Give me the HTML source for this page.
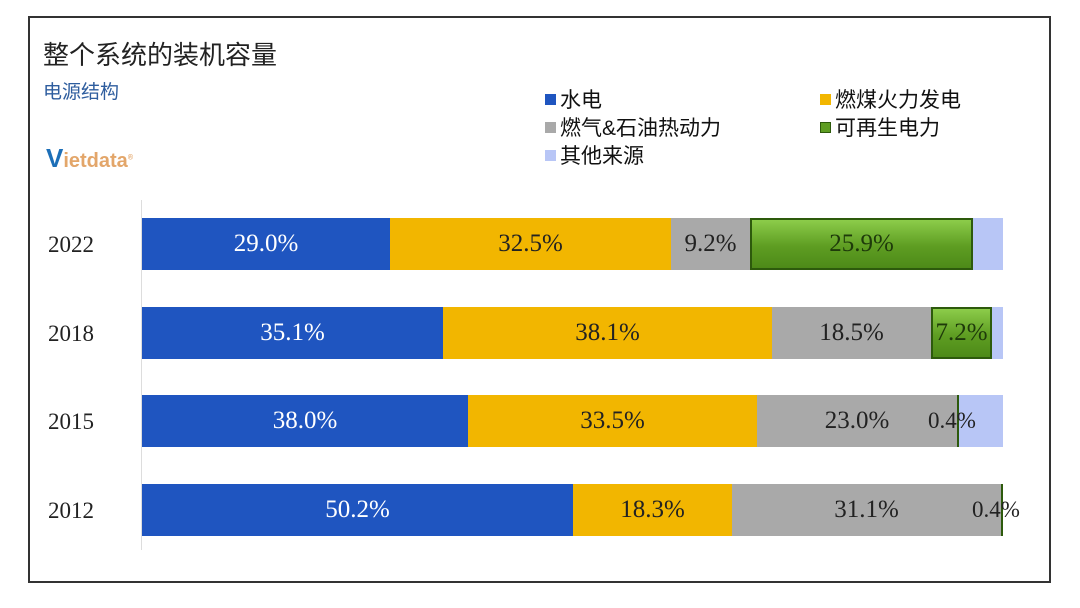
<!DOCTYPE html>
<html><head><meta charset="utf-8"><style>
body{margin:0;width:1080px;height:608px;background:#fff;position:relative;overflow:hidden;font-family:"Liberation Sans","Noto Sans CJK SC",sans-serif}
.a{position:absolute}
.frame{left:28px;top:16px;width:1023px;height:567px;border:2px solid #333;box-sizing:border-box}
.bar{position:absolute;height:52px;display:flex;align-items:center;justify-content:center;font-family:"Liberation Serif","DejaVu Serif",serif;font-size:25px;color:#222;white-space:nowrap}
.b{background:#1f55c0;color:#fff}.y{background:#f2b600}.g{background:#a9a9a9}.l{background:#b8c6f6}
.gr{background:linear-gradient(#8ccc4a,#5e9d22 55%,#4d8a18);border:2px solid #2d5a0c;box-sizing:border-box;color:#1e3a0a}
.yr{position:absolute;left:48px;font-family:"Liberation Serif",serif;font-size:23px;color:#222}
.lg{position:absolute;font-size:21px;color:#111;display:flex;align-items:center}
.lg i{display:inline-block;width:11px;height:11px;margin-right:4px}
</style></head><body>
<div class="a frame"></div>
<div class="a" style="left:43px;top:35px;font-size:26px;color:#222">整个系统的装机容量</div>
<div class="a" style="left:43px;top:77px;font-size:19px;color:#2e5d9e">电源结构</div>
<div class="a" style="left:46px;top:143px;font-size:20px;font-weight:bold;color:#e3a66a"><span style="color:#1c6fb8;font-size:26px">V</span>ietdata<sup style="font-size:7px">®</sup></div>
<div class="lg" style="left:545px;top:84px"><i style="background:#1f55c0"></i>水电</div>
<div class="lg" style="left:820px;top:84px"><i style="background:#f2b600"></i>燃煤火力发电</div>
<div class="lg" style="left:545px;top:112px"><i style="background:#a9a9a9"></i>燃气&amp;石油热动力</div>
<div class="lg" style="left:820px;top:112px"><i style="background:#5e9d22;border:1px solid #2d5a0c;box-sizing:border-box"></i>可再生电力</div>
<div class="lg" style="left:545px;top:140px"><i style="background:#b8c6f6"></i>其他来源</div>
<div class="a" style="left:141px;top:200px;width:1px;height:350px;background:#ddd"></div>

<div class="yr" style="top:232px">2022</div>
<div class="bar b" style="left:142px;top:218px;width:248px">29.0%</div>
<div class="bar y" style="left:390px;top:218px;width:281px">32.5%</div>
<div class="bar g" style="left:671px;top:218px;width:79px">9.2%</div>
<div class="bar gr" style="left:750px;top:218px;width:223px">25.9%</div>
<div class="bar l" style="left:973px;top:218px;width:30px"></div>

<div class="yr" style="top:321px">2018</div>
<div class="bar b" style="left:142px;top:307px;width:301px">35.1%</div>
<div class="bar y" style="left:443px;top:307px;width:329px">38.1%</div>
<div class="bar g" style="left:772px;top:307px;width:159px">18.5%</div>
<div class="bar gr" style="left:931px;top:307px;width:61px">7.2%</div>
<div class="bar l" style="left:992px;top:307px;width:11px"></div>

<div class="yr" style="top:409px">2015</div>
<div class="bar b" style="left:142px;top:395px;width:326px">38.0%</div>
<div class="bar y" style="left:468px;top:395px;width:289px">33.5%</div>
<div class="bar g" style="left:757px;top:395px;width:200px">23.0%</div>
<div class="bar" style="left:957px;top:395px;width:2px;background:#2d5a0c"></div>
<div class="bar l" style="left:959px;top:395px;width:44px"></div>
<div class="a" style="left:928px;top:408px;font-family:'Liberation Serif',serif;font-size:23px;color:#222">0.4%</div>

<div class="yr" style="top:498px">2012</div>
<div class="bar b" style="left:142px;top:484px;width:431px">50.2%</div>
<div class="bar y" style="left:573px;top:484px;width:159px">18.3%</div>
<div class="bar g" style="left:732px;top:484px;width:269px">31.1%</div>
<div class="bar" style="left:1001px;top:484px;width:2px;background:#2d5a0c"></div>
<div class="a" style="left:972px;top:497px;font-family:'Liberation Serif',serif;font-size:23px;color:#222">0.4%</div>
</body></html>
